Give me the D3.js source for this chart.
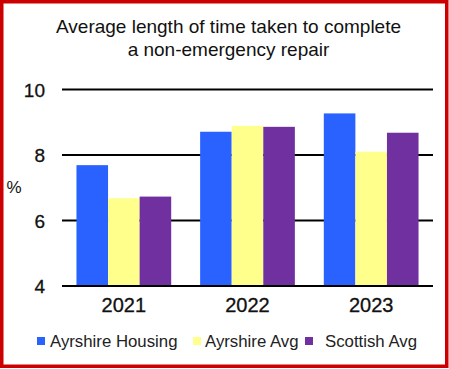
<!DOCTYPE html>
<html><head><meta charset="utf-8">
<script src="https://cdn.jsdelivr.net/npm/d3@7"></script>
<style>html,body{margin:0;padding:0;background:#fff;}svg{display:block;}</style>
</head><body>
<script>
const categories = ["2021", "2022", "2023"];
const seriesNames = ["Ayrshire Housing", "Ayrshire Avg", "Scottish Avg"];
const ayrshireHousing = [7.69, 8.71, 9.27];
const ayrshireAvg = [6.68, 8.89, 8.10];
const scottishAvg = [6.73, 8.86, 8.68];
const yTicks = [4, 6, 8, 10];
const colors = ["#2962FF", "#FFFF8C", "#7030A0"];
const titleLines = ["Average length of time taken to complete", "a non-emergency repair"];

const W = 449, H = 369;
const svg = d3.select("body").append("svg").attr("width", W).attr("height", H);

svg.append("rect").attr("x", 1.75).attr("y", 1.75).attr("width", W - 4).attr("height", H - 4.5)
  .attr("fill", "#fff").attr("stroke", "#CC0000").attr("stroke-width", 3.5);

const t = svg.append("g").attr("font-family", "'Liberation Sans Narrow', 'Liberation Sans', sans-serif")
  .attr("font-size", 19).attr("fill", "#111").attr("text-anchor", "middle");
titleLines.forEach((l, i) => t.append("text").attr("x", 228.5).attr("y", 33 + i * 23).text(l));

const x0 = d3.scaleBand().domain(categories).range([62, 433]).paddingInner(0.234).paddingOuter(0.117);
const x1 = d3.scaleBand().domain(seriesNames).range([0, x0.bandwidth()]);
const y = d3.scaleLinear().domain([4, 10]).range([286, 89.5]);

const grid = svg.append("g");
grid.selectAll("line").data(yTicks).join("line")
  .attr("x1", 62).attr("x2", 433).attr("y1", d => y(d)).attr("y2", d => y(d))
  .attr("stroke", "#000").attr("stroke-width", 2);

const data = categories.map((c, i) => ({c, vals: [ayrshireHousing[i], ayrshireAvg[i], scottishAvg[i]]}));
const g = svg.append("g");
data.forEach(d => {
  d.vals.forEach((v, j) => {
    g.append("rect").attr("x", x0(d.c) + x1(seriesNames[j])).attr("width", x1.bandwidth())
      .attr("y", y(v)).attr("height", y(4) - y(v) - 1).attr("fill", colors[j]);
  });
});

const yl = svg.append("g").attr("font-family", "'Liberation Sans Narrow', 'Liberation Sans', sans-serif")
  .attr("font-size", 19).attr("fill", "#111").attr("stroke", "#111").attr("stroke-width", 0.3).attr("text-anchor", "end");
yTicks.forEach(v => yl.append("text").attr("x", 45).attr("y", y(v) + 7).text(v));
svg.append("text").attr("x", 14).attr("y", 193).attr("text-anchor", "middle")
  .attr("font-family", "'Liberation Sans Narrow', 'Liberation Sans', sans-serif").attr("font-size", 17).attr("fill", "#111").text("%");

const xl = svg.append("g").attr("font-family", "'Liberation Sans Narrow', 'Liberation Sans', sans-serif")
  .attr("font-size", 20).attr("fill", "#111").attr("stroke", "#111").attr("stroke-width", 0.3).attr("text-anchor", "middle");
categories.forEach(c => xl.append("text").attr("x", x0(c) + x0.bandwidth() / 2).attr("y", 312).text(c));

const legX = [37, 193, 305];
const legTextX = [50, 205, 325];
const lg = svg.append("g").attr("font-family", "'Liberation Sans', sans-serif").attr("font-size", 16.8).attr("fill", "#222");
seriesNames.forEach((s, i) => {
  lg.append("rect").attr("x", legX[i]).attr("y", 337).attr("width", 8).attr("height", 8).attr("fill", colors[i]);
  lg.append("text").attr("x", legTextX[i]).attr("y", 347).text(s);
});
</script>
</body></html>
